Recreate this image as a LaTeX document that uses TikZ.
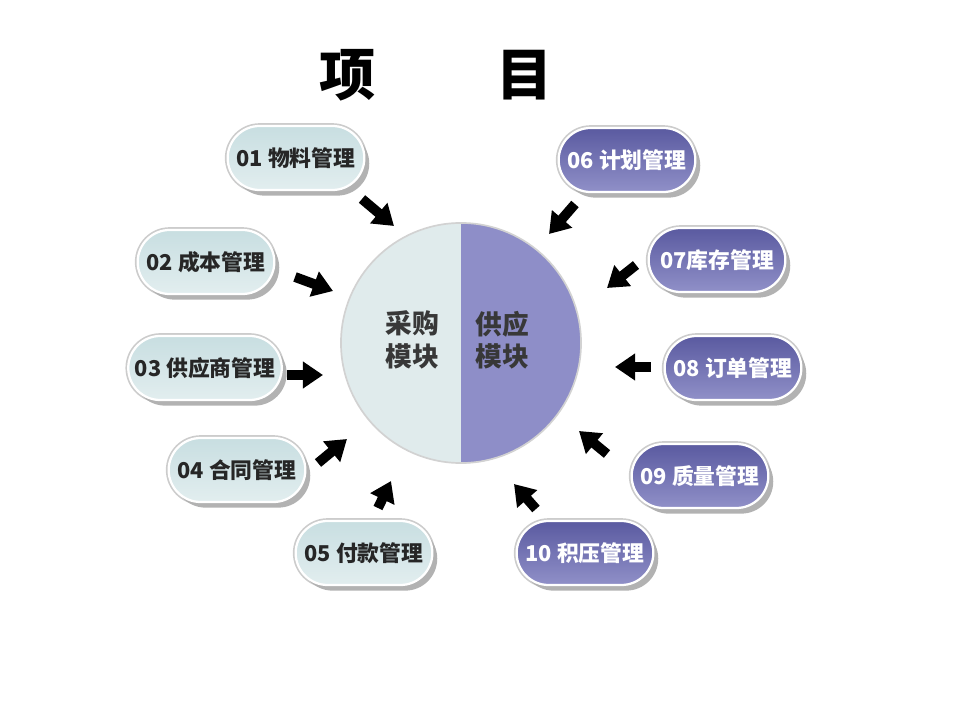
\documentclass[tikz,border=0pt]{standalone}
\usepackage{fontspec}
\newfontfamily\cjk{Noto Sans CJK SC}
\usepackage{tikz}
\usetikzlibrary{positioning, shapes.misc, shadows, arrows.meta}

\definecolor{paleteal}{HTML}{E2EEEF}
\definecolor{palehi}{HTML}{C8DEE1}
\definecolor{violet1}{HTML}{5A5AA0}
\definecolor{violet2}{HTML}{9090C8}
\definecolor{hubleft}{HTML}{E0EBEC}
\definecolor{hubright}{HTML}{8E8EC8}

\begin{document}
\begin{tikzpicture}[
    x=0.025cm, y=-0.025cm,
    pill/.style={rounded rectangle, minimum width=3.65cm, minimum height=1.6cm,
      font=\cjk\bfseries\fontsize{15.5}{18}\selectfont,
      preaction={draw=gray!40, line width=4pt},
      draw=white, line width=1.6pt,
      drop shadow={shadow xshift=3.5pt, shadow yshift=-4pt, fill=gray!60, opacity=1}},
    buypill/.style={pill, top color=palehi, bottom color=paleteal, text=black!85},
    supplypill/.style={pill, top color=violet1, bottom color=violet2, text=white},
    bigarrow/.style={line width=7pt, -{Triangle[length=0.5cm, width=0.64cm]}},
    hubtext/.style={font=\cjk\bfseries\fontsize{19}{23}\selectfont, align=center, text=black!78}
  ]
    \useasboundingbox (0,0) rectangle (960,720);

    % title
    \node[font=\cjk\bfseries\fontsize{40}{44}\selectfont] (title1) at (348,75) {项};
    \node[font=\cjk\bfseries\fontsize{40}{44}\selectfont] (title2) at (525,75) {目};

    % centre circle
    \node[circle, minimum size=6cm, inner sep=0pt] (hub) at (461,343) {};
    \fill[hubleft] (hub.north) arc[start angle=90, end angle=270, radius=3cm] -- cycle;
    \fill[hubright] (hub.south) arc[start angle=-90, end angle=90, radius=3cm] -- cycle;
    \draw[gray!35, line width=1.2pt] (hub) circle[radius=3cm];
    \node[hubtext] (buy) at (412,340) {采购\\模块};
    \node[hubtext] (supply) at (502,340) {供应\\模块};

    % left pills
    \node[buypill] (p01) at (296,158) {01 物料管理};
    \node[buypill] (p02) at (206,262) {02 成本管理};
    \node[buypill] (p03) at (205,368) {03 供应商管理};
    \node[buypill] (p04) at (237,470) {04 合同管理};
    \node[buypill] (p05) at (364,553) {05 付款管理};

    % right pills
    \node[supplypill] (p06) at (627,160) {06 计划管理};
    \node[supplypill] (p07) at (717,260) {07库存管理};
    \node[supplypill] (p08) at (733,368) {08 订单管理};
    \node[supplypill] (p09) at (700,476) {09 质量管理};
    \node[supplypill] (p10) at (585,553) {10 积压管理};

    % arrow ends
    \coordinate (a01) at (362,199);  \coordinate (b01) at (394,226);
    \coordinate (a02) at (295,277);  \coordinate (b02) at (333,291);
    \coordinate (a03) at (287,375);  \coordinate (b03) at (323,375);
    \coordinate (a04) at (318,463);  \coordinate (b04) at (347,439);
    \coordinate (a05) at (378,508);  \coordinate (b05) at (391,481);
    \coordinate (a06) at (575,204);  \coordinate (b06) at (549,234);
    \coordinate (a07) at (636,265);  \coordinate (b07) at (607,288);
    \coordinate (a08) at (651,367);  \coordinate (b08) at (615,367);
    \coordinate (a09) at (607,454);  \coordinate (b09) at (579,431);
    \coordinate (a10) at (536,509);  \coordinate (b10) at (514,484);

    \draw[bigarrow] (a01) -- (b01);
    \draw[bigarrow] (a02) -- (b02);
    \draw[bigarrow] (a03) -- (b03);
    \draw[bigarrow] (a04) -- (b04);
    \draw[bigarrow] (a05) -- (b05);
    \draw[bigarrow] (a06) -- (b06);
    \draw[bigarrow] (a07) -- (b07);
    \draw[bigarrow] (a08) -- (b08);
    \draw[bigarrow] (a09) -- (b09);
    \draw[bigarrow] (a10) -- (b10);
  \end{tikzpicture}
\end{document}
